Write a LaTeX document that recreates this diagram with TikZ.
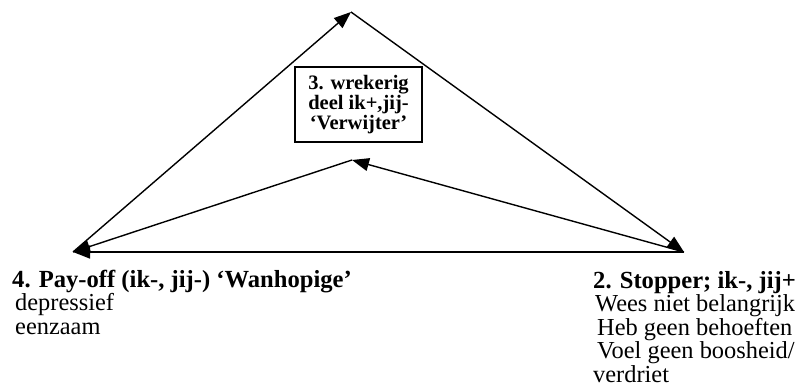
\documentclass[tikz,border=0pt]{standalone}
\usepackage{fontspec}
\setmainfont{Liberation Serif}
\usetikzlibrary{arrows.meta}
\begin{document}
\begin{tikzpicture}[x=1pt, y=-1pt,
  conn/.style={line width=1.4pt, -{Triangle[length=17pt,width=13pt]}},
  headtxt/.style={font=\fontsize{24.6}{24}\selectfont\bfseries, inner sep=0pt, anchor=base west},
  bodytxt/.style={font=\fontsize{24.4}{24}\selectfont, inner sep=0pt, anchor=base west},
  rolebox/.style={draw, line width=1.2pt, minimum width=127pt, minimum height=75pt,
    inner sep=0pt, align=center, font=\fontsize{20.5}{16.7}\selectfont\bfseries}]
\useasboundingbox (0,0) rectangle (800,389);

% corners of the drama triangle
\coordinate (T) at (351,12);
\coordinate (L) at (73,252);
\coordinate (R) at (684,252);
\coordinate (A) at (352,160);

% connectors
\draw[conn] (L) -- (T);
\draw[conn] (T) -- (R);
\draw[conn] (R) -- (L);
\draw[conn] (R) -- (A);
\draw[conn] (A) -- (L);

% role box in the middle
\node[rolebox] (box) at (358.5,104.5) {3. wrekerig\\deel ik+,jij-\\‘Verwijter’};

% left corner: pay-off
\node[headtxt] (payoff) at (12,287) {4. Pay-off (ik-, jij-) ‘Wanhopige’};
\node[bodytxt] (dep) at (15,310.5) {depressief};
\node[bodytxt] (een) at (15,334) {eenzaam};

% right corner: stopper
\node[headtxt] (stopper) at (593,288) {2. Stopper; ik-, jij+};
\node[bodytxt] (wees) at (595,311.5) {Wees niet belangrijk};
\node[bodytxt] (heb) at (597,335) {Heb geen behoeften};
\node[bodytxt] (voel) at (597,358.5) {Voel geen boosheid/};
\node[bodytxt] (verd) at (593,382) {verdriet};
\end{tikzpicture}
\end{document}
